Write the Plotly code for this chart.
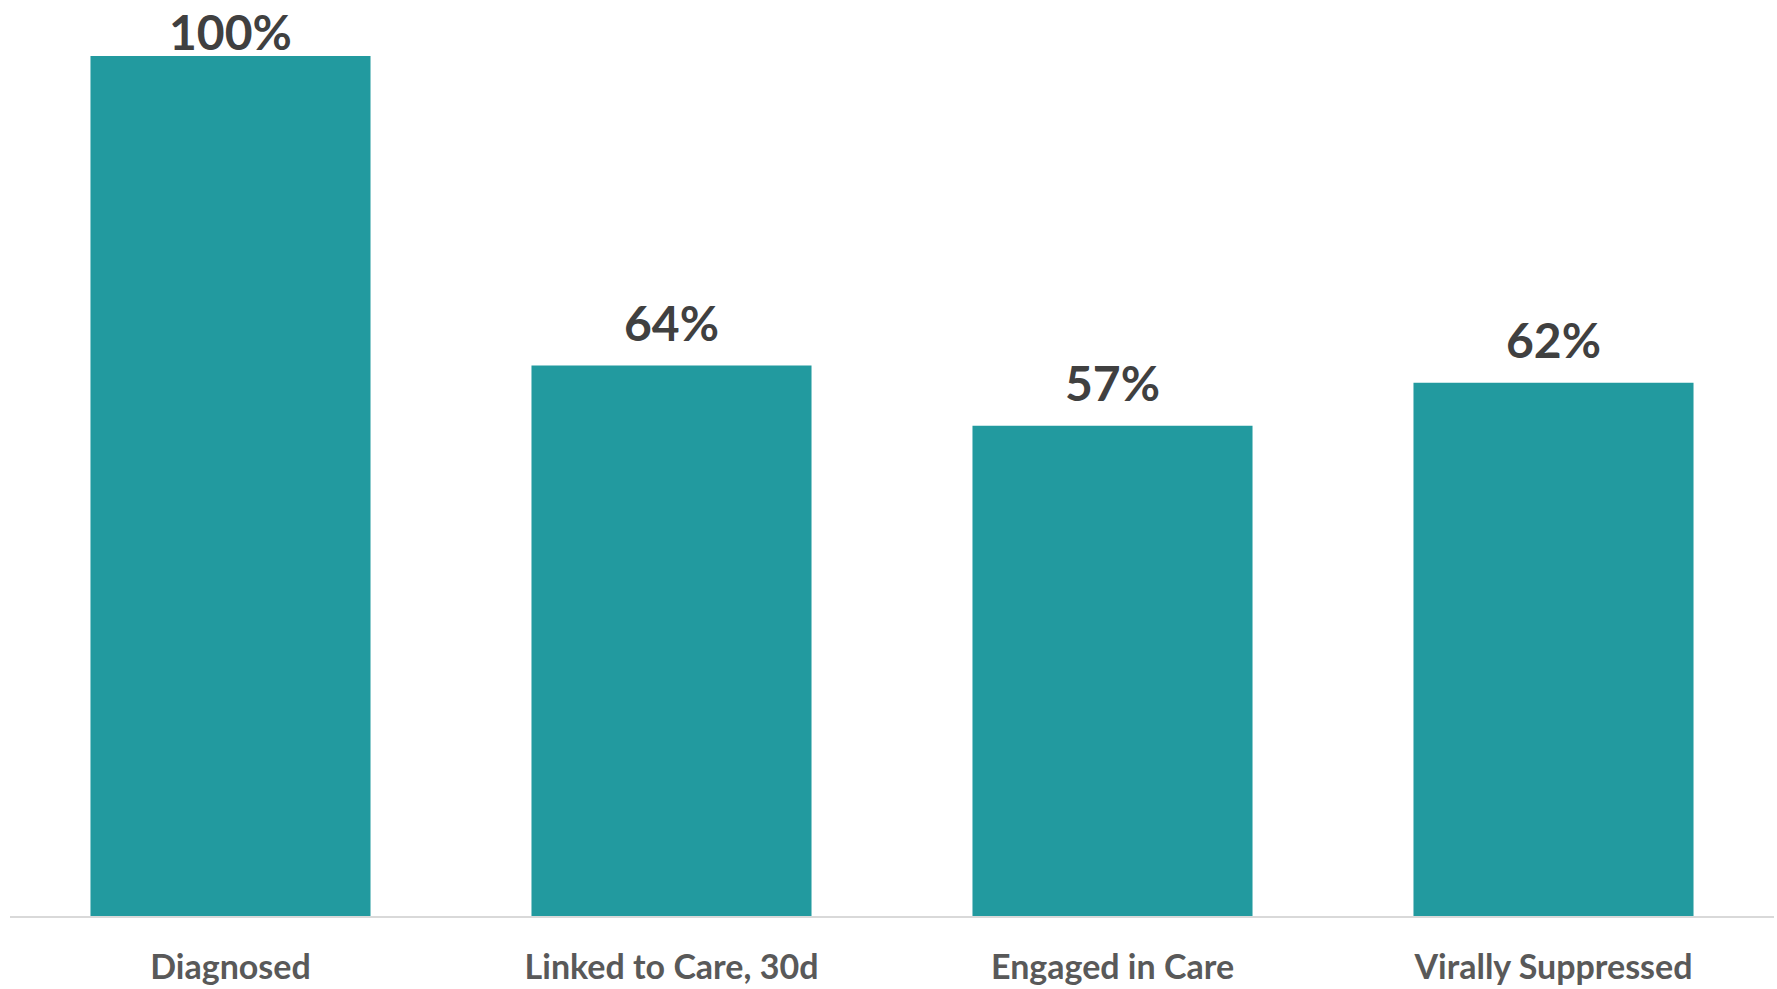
import plotly.graph_objects as go

categories = ["Diagnosed", "Linked to Care, 30d", "Engaged in Care", "Virally Suppressed"]
values = [100, 64, 57, 62]
value_labels = ["100%", "64%", "57%", "62%"]
label_shift = [-6, 13, 13, 13]

BAR = "#229A9F"

fig = go.Figure()
fig.add_trace(go.Bar(
    x=categories, y=values,
    marker=dict(color=BAR, line=dict(width=0)),
    width=0.635,
    hoverinfo="skip",
))

for c, v, t, s in zip(categories, values, value_labels, label_shift):
    fig.add_annotation(
        x=c, y=v, text=t, showarrow=False, yanchor="bottom", yshift=s,
        font=dict(family="Lato", size=48, color="#404040", weight="bold"),
    )

fig.update_layout(
    width=1777, height=989,
    margin=dict(l=10, r=3, t=56, b=70),
    paper_bgcolor="white", plot_bgcolor="white",
    showlegend=False,
    xaxis=dict(
        showline=True, linecolor="#D9D9D9", linewidth=2,
        ticks="", showgrid=False,
        tickfont=dict(family="Lato", size=34, color="#595959", weight="bold"),
        ticklabelstandoff=20,
    ),
    yaxis=dict(range=[0, 100], visible=False, showgrid=False),
)

# remove the browser's default 8px body margin so the figure fills the window exactly
fig.write_html(
    "out.html",
    config={"displayModeBar": False},
    post_script="document.body.style.margin='0';",
)
